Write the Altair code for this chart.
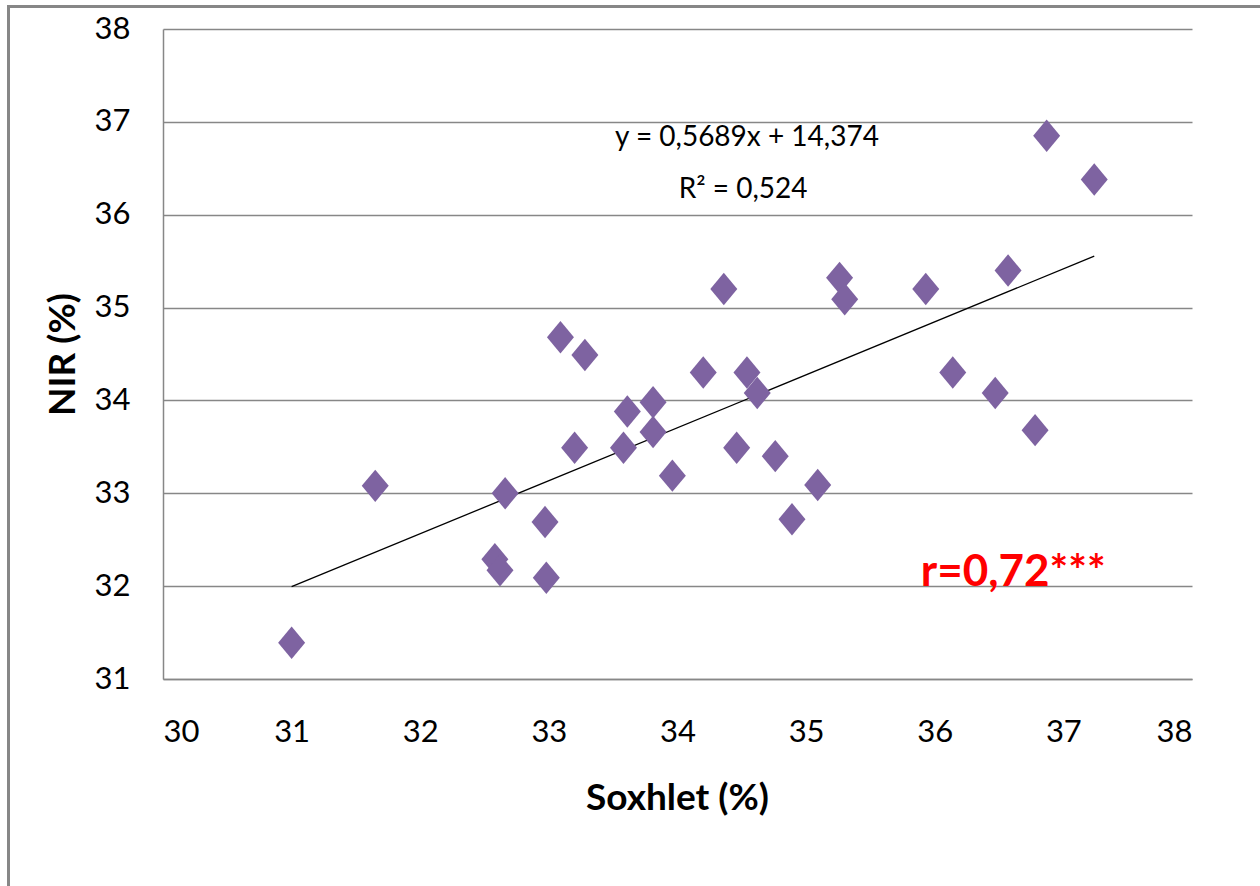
import altair as alt
import pandas as pd

# Data
soxhlet = [31.00, 31.65, 32.58, 32.62, 32.66, 32.97, 32.98, 33.20, 33.61, 33.58,
           33.81, 33.09, 33.28, 33.81, 33.96, 34.20, 34.36, 34.46, 34.54, 34.62,
           34.76, 35.09, 34.89, 35.26, 35.30, 35.93, 36.57, 36.14, 36.47, 36.78,
           37.24, 36.87]
nir = [31.39, 33.08, 32.29, 32.17, 33.00, 32.69, 32.09, 33.49, 33.88, 33.49,
       33.66, 34.68, 34.49, 33.98, 33.19, 34.30, 35.20, 33.49, 34.30, 34.08,
       33.40, 33.09, 32.72, 35.32, 35.09, 35.20, 35.40, 34.30, 34.08, 33.68,
       36.38, 36.85]

x_ticks = [30, 31, 32, 33, 34, 35, 36, 37, 38]
y_ticks = [31, 32, 33, 34, 35, 36, 37, 38]

eq_texts = ["y = 0,5689x + 14,374", "R² = 0,524"]
eq_x = [34.54, 34.51]
eq_y = [36.83, 36.27]

r_text = ["r=0,72***"]
r_x = [36.61]
r_y = [32.0]

df = pd.DataFrame({"soxhlet": soxhlet, "nir": nir})
eq_df = pd.DataFrame({"t": eq_texts, "x": eq_x, "y": eq_y})
r_df = pd.DataFrame({"t": r_text, "x": r_x, "y": r_y})

FONT = "Lato"
GRAY = "#878787"
PURPLE = "#7E63A1"

xscale = alt.Scale(domain=[30, 38], nice=False, zero=False)
yscale = alt.Scale(domain=[31, 38], nice=False, zero=False)

x_axis = alt.Axis(values=x_ticks, format="d", title="Soxhlet (%)", grid=False,
                  ticks=False, domain=True, domainColor=GRAY, domainWidth=1.5,
                  labelFont=FONT, labelFontSize=31, labelColor="#000000",
                  labelPadding=38, titleFont=FONT, titleFontSize=37,
                  titleFontWeight="bold", titleColor="#000000",
                  titleX=514, titleY=119, titleBaseline="middle")
y_axis = alt.Axis(values=y_ticks, format="d", title="NIR (%)", grid=True,
                  gridColor=GRAY, gridWidth=1.5, ticks=False, domain=True,
                  domainColor=GRAY, domainWidth=1.5, labelFont=FONT,
                  labelFontSize=31, labelColor="#000000", labelPadding=33,
                  titleFont=FONT, titleFontSize=37, titleFontWeight="bold",
                  titleColor="#000000", titleX=-100, titleY=325, titleAngle=270,
                  titleAlign="center", titleBaseline="middle")

points = alt.Chart(df).mark_point(
    shape="M0,-1.2L1,0L0,1.2L-1,0Z", filled=True, size=729, opacity=1,
    color=PURPLE, strokeWidth=0
).encode(
    x=alt.X("soxhlet:Q", scale=xscale, axis=x_axis),
    y=alt.Y("nir:Q", scale=yscale, axis=y_axis),
)

trend = alt.Chart(df).transform_regression(
    "soxhlet", "nir"
).mark_line(color="#000000", strokeWidth=1.3).encode(
    x=alt.X("soxhlet:Q", scale=xscale),
    y=alt.Y("nir:Q", scale=yscale),
)

eq = alt.Chart(eq_df).mark_text(
    font=FONT, fontSize=28, color="#000000", align="center", baseline="middle"
).encode(
    x=alt.X("x:Q", scale=xscale),
    y=alt.Y("y:Q", scale=yscale),
    text="t:N",
)

rlab = alt.Chart(r_df).mark_text(
    font=FONT, fontSize=44, fontWeight="bold", color="#FF0000",
    align="center", baseline="alphabetic"
).encode(
    x=alt.X("x:Q", scale=xscale),
    y=alt.Y("y:Q", scale=yscale),
    text="t:N",
)

frame_top = alt.Chart(alt.Data(values=[{"a": 1}])).mark_rule(
    color=GRAY, strokeWidth=3
).encode(x=alt.value(-156), x2=alt.value(1097), y=alt.value(-22.5))

frame_left = alt.Chart(alt.Data(values=[{"a": 1}])).mark_rule(
    color=GRAY, strokeWidth=3
).encode(x=alt.value(-154.5), y=alt.value(-22.5), y2=alt.value(857))

chart = alt.layer(frame_top, frame_left, trend, points, eq, rlab).properties(
    width=1029, height=650,
    autosize=alt.AutoSizeParams(type="none"),
    padding={"left": 163, "top": 29, "right": 68, "bottom": 207},
    background="#ffffff",
).configure_view(stroke=None)

chart.save("out.html", embed_options={"renderer": "svg", "actions": False})
